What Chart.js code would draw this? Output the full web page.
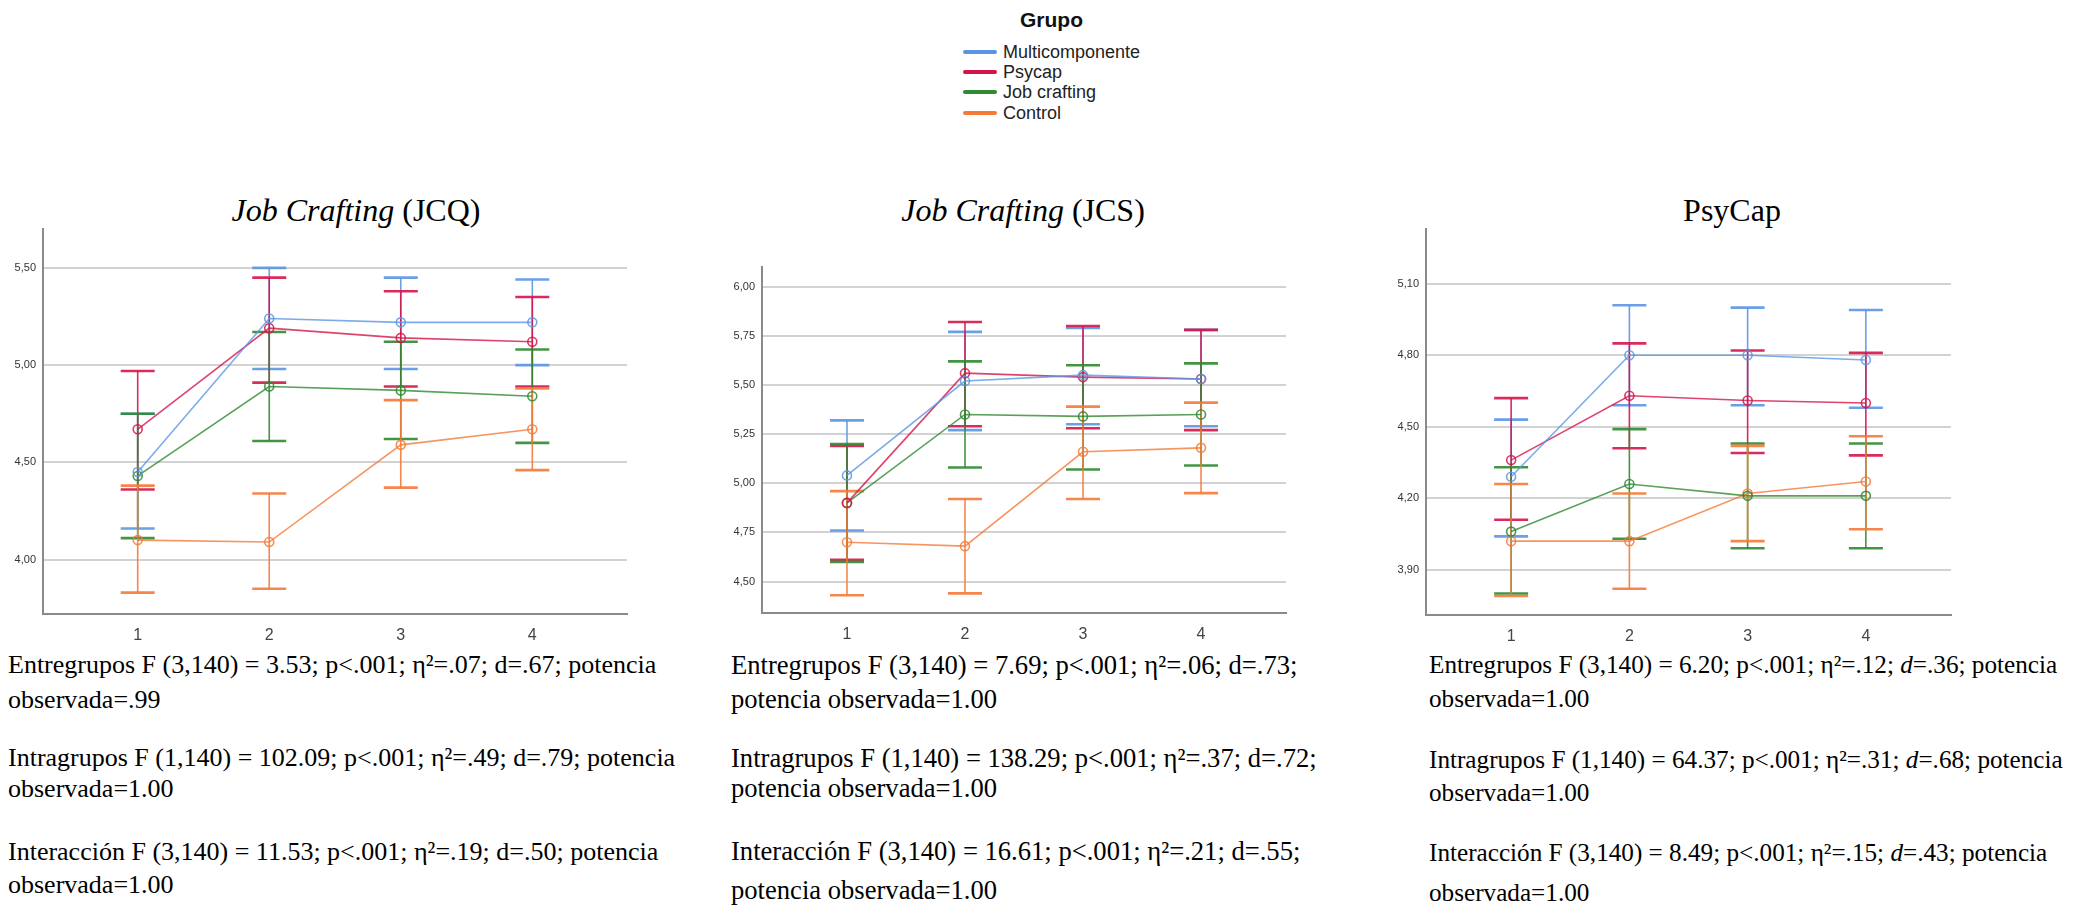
<!DOCTYPE html>
<html lang="es">
<head>
<meta charset="utf-8">
<title>Medias por grupo y momento de medida</title>
<script src="https://cdn.jsdelivr.net/npm/chart.js@4.4.1/dist/chart.umd.min.js"></script>
<style>
  html, body { margin: 0; padding: 0; background: #ffffff; }
  body { width: 2084px; height: 907px; position: relative; overflow: hidden; }
  .legend { position: absolute; left: 940px; top: 0; width: 240px; font-family: "Liberation Sans", Arial, sans-serif; color: #222; }
  .legend .ttl { position: absolute; left: 80px; top: 6px; font-weight: bold; font-size: 21px; line-height: 28px; color: #111; }
  .legend .item { position: absolute; left: 23px; height: 22px; font-size: 18px; line-height: 22px; white-space: nowrap; }
  .legend .sw { display: inline-block; width: 34px; height: 4px; border-radius: 2px; vertical-align: middle; margin-right: 6px; position: relative; top: -1px; }
  .ctitle { position: absolute; font-family: "Liberation Serif", "Times New Roman", serif; font-size: 32px; line-height: 36px; color: #000; white-space: nowrap; transform: translateX(-50%); }
  .ctitle i { font-style: italic; }
  .stat { position: absolute; font-family: "Liberation Serif", "Times New Roman", serif; font-size: 26px; line-height: 30px; color: #000; white-space: nowrap; }
  .stat.c2 { font-size: 26.6px; }
  .stat.c3 { font-size: 25.2px; }
  .stat i { font-style: italic; }
  canvas { position: absolute; }
</style>
</head>
<body>

<div class="legend">
  <div class="ttl">Grupo</div>
  <div class="item" style="top:41px"><span class="sw" style="background:#5b96e4"></span>Multicomponente</div>
  <div class="item" style="top:61px"><span class="sw" style="background:#d6144a"></span>Psycap</div>
  <div class="item" style="top:81px"><span class="sw" style="background:#2f8a30"></span>Job crafting</div>
  <div class="item" style="top:102px"><span class="sw" style="background:#f47a38"></span>Control</div>
</div>

<div class="ctitle" style="left:356px; top:192px"><i>Job Crafting</i> (JCQ)</div>
<div class="ctitle" style="left:1023px; top:192px"><i>Job Crafting</i> (JCS)</div>
<div class="ctitle" style="left:1732px; top:192px">PsyCap</div>

<canvas id="cJCQ" style="left:0px; top:209px" width="647" height="436"></canvas>
<canvas id="cJCS" style="left:719px; top:247px" width="587" height="397"></canvas>
<canvas id="cPSY" style="left:1383px; top:209px" width="588" height="437"></canvas>

<div class="stat" style="left:8px; top:650px">Entregrupos F (3,140) = 3.53; p&lt;.001; η²=.07; d=.67; potencia</div>
<div class="stat" style="left:8px; top:685px">observada=.99</div>
<div class="stat" style="left:8px; top:743px">Intragrupos F (1,140) = 102.09; p&lt;.001; η²=.49; d=.79; potencia</div>
<div class="stat" style="left:8px; top:774px">observada=1.00</div>
<div class="stat" style="left:8px; top:837px">Interacción F (3,140) = 11.53; p&lt;.001; η²=.19; d=.50; potencia</div>
<div class="stat" style="left:8px; top:870px">observada=1.00</div>

<div class="stat c2" style="left:731px; top:650px">Entregrupos F (3,140) = 7.69; p&lt;.001; η²=.06; d=.73;</div>
<div class="stat c2" style="left:731px; top:684px">potencia observada=1.00</div>
<div class="stat c2" style="left:731px; top:743px">Intragrupos F (1,140) = 138.29; p&lt;.001; η²=.37; d=.72;</div>
<div class="stat c2" style="left:731px; top:773px">potencia observada=1.00</div>
<div class="stat c2" style="left:731px; top:836px">Interacción F (3,140) = 16.61; p&lt;.001; η²=.21; d=.55;</div>
<div class="stat c2" style="left:731px; top:875px">potencia observada=1.00</div>

<div class="stat c3" style="left:1429px; top:650px">Entregrupos F (3,140) = 6.20; p&lt;.001; η²=.12; <i>d</i>=.36; potencia</div>
<div class="stat c3" style="left:1429px; top:684px">observada=1.00</div>
<div class="stat c3" style="left:1429px; top:745px">Intragrupos F (1,140) = 64.37; p&lt;.001; η²=.31; <i>d</i>=.68; potencia</div>
<div class="stat c3" style="left:1429px; top:778px">observada=1.00</div>
<div class="stat c3" style="left:1429px; top:838px">Interacción F (3,140) = 8.49; p&lt;.001; η²=.15; <i>d</i>=.43; potencia</div>
<div class="stat c3" style="left:1429px; top:878px">observada=1.00</div>

<script>
// Measurement moments (x axis)
const moments = [1, 2, 3, 4];
const groupNames = ['Multicomponente', 'Psycap', 'Job crafting', 'Control'];
const groupColors = ['#5b96e4', '#d6144a', '#2f8a30', '#f47a38'];

// Job Crafting (JCQ): means and 95% CI bounds per group
const jcqMulti   = [4.45, 5.24, 5.22, 5.22];
const jcqMultiLo = [4.16, 4.98, 4.98, 5.00];
const jcqMultiHi = [4.75, 5.50, 5.45, 5.44];
const jcqPsy     = [4.67, 5.19, 5.14, 5.12];
const jcqPsyLo   = [4.36, 4.91, 4.89, 4.89];
const jcqPsyHi   = [4.97, 5.45, 5.38, 5.35];
const jcqJob     = [4.43, 4.89, 4.87, 4.84];
const jcqJobLo   = [4.11, 4.61, 4.62, 4.60];
const jcqJobHi   = [4.75, 5.17, 5.12, 5.08];
const jcqCtl     = [4.10, 4.09, 4.59, 4.67];
const jcqCtlLo   = [3.83, 3.85, 4.37, 4.46];
const jcqCtlHi   = [4.38, 4.34, 4.82, 4.88];
const jcqTicks   = [4.00, 4.50, 5.00, 5.50];

// Job Crafting (JCS)
const jcsMulti   = [5.04, 5.52, 5.55, 5.53];
const jcsMultiLo = [4.76, 5.27, 5.30, 5.29];
const jcsMultiHi = [5.32, 5.77, 5.79, 5.78];
const jcsPsy     = [4.90, 5.56, 5.54, 5.53];
const jcsPsyLo   = [4.61, 5.29, 5.28, 5.27];
const jcsPsyHi   = [5.19, 5.82, 5.80, 5.78];
const jcsJob     = [4.90, 5.35, 5.34, 5.35];
const jcsJobLo   = [4.60, 5.08, 5.07, 5.09];
const jcsJobHi   = [5.20, 5.62, 5.60, 5.61];
const jcsCtl     = [4.70, 4.68, 5.16, 5.18];
const jcsCtlLo   = [4.43, 4.44, 4.92, 4.95];
const jcsCtlHi   = [4.96, 4.92, 5.39, 5.41];
const jcsTicks   = [4.50, 4.75, 5.00, 5.25, 5.50, 5.75, 6.00];

// PsyCap
const psyMulti   = [4.29, 4.80, 4.80, 4.78];
const psyMultiLo = [4.04, 4.59, 4.59, 4.58];
const psyMultiHi = [4.53, 5.01, 5.00, 4.99];
const psyPsy     = [4.36, 4.63, 4.61, 4.60];
const psyPsyLo   = [4.11, 4.41, 4.39, 4.38];
const psyPsyHi   = [4.62, 4.85, 4.82, 4.81];
const psyJob     = [4.06, 4.26, 4.21, 4.21];
const psyJobLo   = [3.80, 4.03, 3.99, 3.99];
const psyJobHi   = [4.33, 4.49, 4.43, 4.43];
const psyCtl     = [4.02, 4.02, 4.22, 4.27];
const psyCtlLo   = [3.79, 3.82, 4.02, 4.07];
const psyCtlHi   = [4.26, 4.22, 4.42, 4.46];
const psyTicks   = [3.90, 4.20, 4.50, 4.80, 5.10];

function withAlpha(hex, a) {
  const n = parseInt(hex.slice(1), 16);
  return `rgba(${(n >> 16) & 255},${(n >> 8) & 255},${n & 255},${a})`;
}

// Draws vertical CI whiskers with caps, using the chart's own scales
const errorBars = {
  id: 'errorBars',
  beforeDatasetsDraw(chart) {
    const { ctx, scales: { x, y } } = chart;
    ctx.save();
    chart.data.datasets.forEach((ds) => {
      ds.data.forEach((pt, j) => {
        const px = x.getPixelForValue(pt.x);
        const yLo = y.getPixelForValue(ds.lower[j]);
        const yHi = y.getPixelForValue(ds.upper[j]);
        ctx.strokeStyle = ds.whiskerColor;
        ctx.lineWidth = 1.6;
        ctx.beginPath();
        ctx.moveTo(px, yLo);
        ctx.lineTo(px, yHi);
        ctx.stroke();
        ctx.lineWidth = 2.6;
        ctx.beginPath();
        ctx.moveTo(px - 17, yHi); ctx.lineTo(px + 17, yHi);
        ctx.moveTo(px - 17, yLo); ctx.lineTo(px + 17, yLo);
        ctx.stroke();
      });
    });
    ctx.restore();
  }
};

function makeDatasets(series) {
  return series.map((s, i) => ({
    label: groupNames[i],
    data: moments.map((m, j) => ({ x: m, y: s.mean[j] })),
    lower: s.lo,
    upper: s.hi,
    whiskerColor: withAlpha(groupColors[i], 0.9),
    borderColor: withAlpha(groupColors[i], 0.8),
    borderWidth: 1.6,
    pointRadius: 4.5,
    pointBorderWidth: 1.6,
    pointBackgroundColor: 'rgba(255,255,255,0)',
    pointBorderColor: withAlpha(groupColors[i], 0.85),
    fill: false,
    tension: 0
  }));
}

function makeChart(id, series, yMin, yMax, yTicks) {
  const tickFont = { family: '"Liberation Sans Narrow", "Liberation Sans", Arial, sans-serif' };
  return new Chart(document.getElementById(id), {
    type: 'line',
    data: { datasets: makeDatasets(series) },
    options: {
      responsive: false,
      animation: false,
      events: [],
      layout: { padding: { top: 20, right: 20, left: 0, bottom: 0 } },
      plugins: { legend: { display: false }, tooltip: { enabled: false } },
      scales: {
        x: {
          type: 'linear',
          min: 0.28,
          max: 4.72,
          afterBuildTicks: (scale) => { scale.ticks = moments.map(v => ({ value: v })); },
          afterFit: (scale) => { scale.height = 31; },
          grid: { display: false, drawTicks: false },
          border: { display: true, color: '#8a8a8a', width: 2 },
          ticks: {
            padding: 12,
            color: '#444',
            font: { ...tickFont, size: 16 },
            callback: (v) => String(v)
          }
        },
        y: {
          type: 'linear',
          min: yMin,
          max: yMax,
          afterBuildTicks: (scale) => { scale.ticks = yTicks.map(v => ({ value: v })); },
          afterFit: (scale) => { scale.width = 43; },
          grid: { color: '#d2d2d2', lineWidth: 2, drawTicks: false },
          border: { display: true, color: '#8a8a8a', width: 2 },
          ticks: {
            padding: 7,
            color: '#333',
            font: { ...tickFont, size: 11 },
            callback: (v) => Number(v).toFixed(2).replace('.', ',')
          }
        }
      }
    },
    plugins: [errorBars]
  });
}

makeChart('cJCQ', [
  { mean: jcqMulti, lo: jcqMultiLo, hi: jcqMultiHi },
  { mean: jcqPsy,   lo: jcqPsyLo,   hi: jcqPsyHi },
  { mean: jcqJob,   lo: jcqJobLo,   hi: jcqJobHi },
  { mean: jcqCtl,   lo: jcqCtlLo,   hi: jcqCtlHi }
], 3.72, 5.70, jcqTicks);

makeChart('cJCS', [
  { mean: jcsMulti, lo: jcsMultiLo, hi: jcsMultiHi },
  { mean: jcsPsy,   lo: jcsPsyLo,   hi: jcsPsyHi },
  { mean: jcsJob,   lo: jcsJobLo,   hi: jcsJobHi },
  { mean: jcsCtl,   lo: jcsCtlLo,   hi: jcsCtlHi }
], 4.34, 6.10, jcsTicks);

makeChart('cPSY', [
  { mean: psyMulti, lo: psyMultiLo, hi: psyMultiHi },
  { mean: psyPsy,   lo: psyPsyLo,   hi: psyPsyHi },
  { mean: psyJob,   lo: psyJobLo,   hi: psyJobHi },
  { mean: psyCtl,   lo: psyCtlLo,   hi: psyCtlHi }
], 3.71, 5.33, psyTicks);
</script>
</body>
</html>
